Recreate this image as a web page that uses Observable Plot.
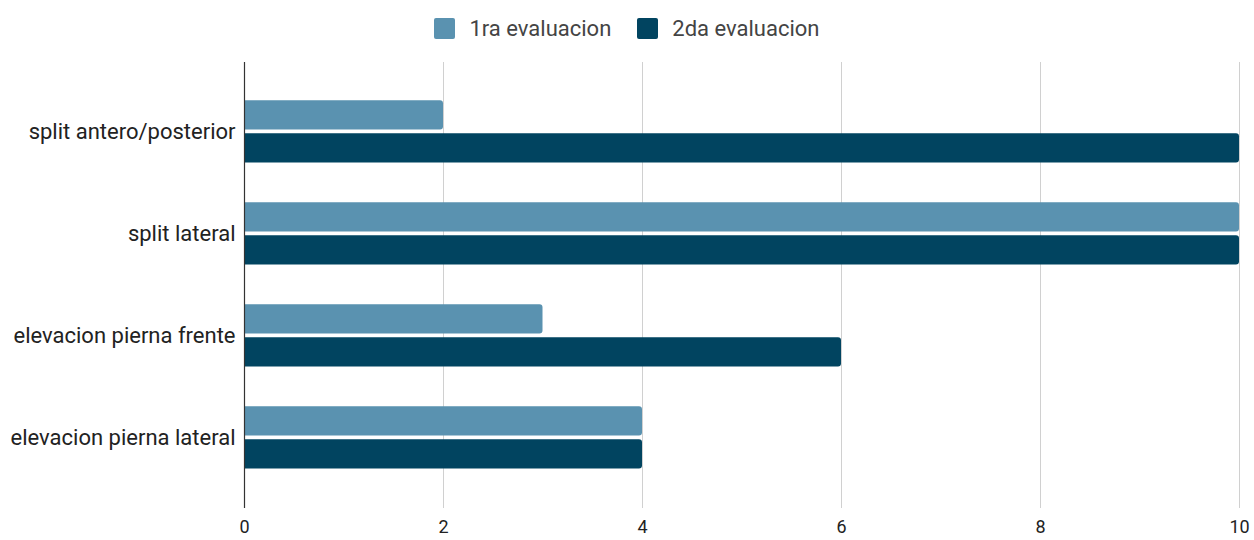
<!DOCTYPE html>
<html>
<head>
<meta charset="utf-8">
<script src="https://cdn.jsdelivr.net/npm/d3@7"></script>
<script src="https://cdn.jsdelivr.net/npm/@observablehq/plot@0.6"></script>
<style>
  html, body { margin: 0; padding: 0; background: #fff; }
  #legend { height: 56px; display: flex; justify-content: center; align-items: center; gap: 26px; font-family: Roboto, Arial, sans-serif; font-size: 22px; color: #444; padding-left: 0px; }
  .item { display: flex; align-items: center; gap: 14px; }
  .sw { width: 21px; height: 21px; border-radius: 2px; }
  #chart svg { display: block; }
</style>
</head>
<body>
<div id="legend"></div>
<div id="chart"></div>
<script>
const categories = ["split antero/posterior", "split lateral", "elevacion pierna frente", "elevacion pierna lateral"];
const series = ["1ra evaluacion", "2da evaluacion"];
const eval1 = [2, 10, 3, 4];
const eval2 = [10, 10, 6, 4];
const xTicks = [0, 2, 4, 6, 8, 10];
const colors = ["#5a92b0", "#014460"];

const data1 = categories.map((c, i) => ({category: c, value: eval1[i]}));
const data2 = categories.map((c, i) => ({category: c, value: eval2[i]}));

const legend = document.getElementById("legend");
series.forEach((s, i) => {
  const it = document.createElement("div");
  it.className = "item";
  it.innerHTML = `<div class="sw" style="background:${colors[i]}"></div><span>${s}</span>`;
  legend.appendChild(it);
});

const step = 102.7;
const chart = Plot.plot({
  width: 1254,
  height: 484,
  marginLeft: 244,
  marginRight: 15,
  marginTop: 6,
  marginBottom: 32,
  style: {fontFamily: "Roboto, Arial, sans-serif", fontSize: "22px", color: "#222", background: "#fff"},
  x: {domain: [0, 10], ticks: xTicks, tickSize: 0, tickPadding: 12, label: null, fontSize: 18},
  y: {domain: categories, range: [22.5, 433.5], padding: 0, tickSize: 0, tickPadding: 9, label: null},
  marks: [
    Plot.ruleX(xTicks.filter(d => d > 0), {stroke: "#d0d0d0", strokeWidth: 1}),
    Plot.barX(data1, {y: "category", x: "value", fill: colors[0], insetTop: 20.3, insetBottom: step - 50.3, rx2: 3}),
    Plot.barX(data2, {y: "category", x: "value", fill: colors[1], insetTop: 53.3, insetBottom: step - 83.3, rx2: 3}),
    Plot.ruleX([0], {stroke: "#333", strokeWidth: 1.2})
  ]
});
chart.querySelectorAll('[aria-label="x-axis tick label"] text').forEach(t => t.style.fontSize = "18px");
document.getElementById("chart").appendChild(chart);
</script>
</body>
</html>
